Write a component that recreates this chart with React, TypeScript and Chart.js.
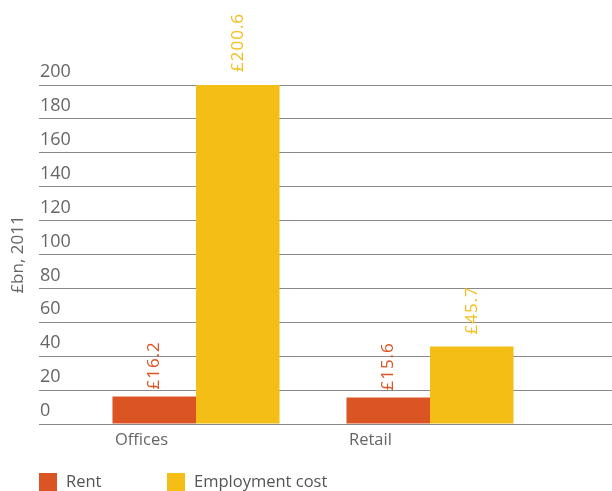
import React, { useEffect, useRef } from "react";
import { Chart, registerables } from "chart.js";

Chart.register(...registerables);

const categories = ["Offices", "Retail"];
const seriesNames = ["Rent", "Employment cost"];
const rentValues = [16.2, 15.6];
const employmentValues = [200.6, 45.7];
const yTicks = [0, 20, 40, 60, 80, 100, 120, 140, 160, 180, 200];
const yTitle = "£bn, 2011";

const RENT_COLOR = "#DB5424";
const EMP_COLOR = "#F5BE17";
const TEXT_COLOR = "#666666";
const GRID_COLOR = "#8a8a8a";
const FONT = "'Open Sans', sans-serif";

const valueLabels = {
  id: "valueLabels",
  afterDatasetsDraw(chart: any) {
    const ctx = chart.ctx;
    const gaps = [7, 12];
    chart.data.datasets.forEach((ds: any, di: number) => {
      const meta = chart.getDatasetMeta(di);
      meta.data.forEach((bar: any, i: number) => {
        const v = ds.data[i];
        ctx.save();
        ctx.translate(bar.x, bar.y - gaps[di]);
        ctx.rotate(-Math.PI / 2);
        ctx.font = `17px ${FONT}`;
        (ctx as any).letterSpacing = "1px";
        ctx.fillStyle = ds.backgroundColor;
        ctx.textAlign = "left";
        ctx.textBaseline = "middle";
        ctx.fillText("£" + v.toFixed(1), 0, 0);
        ctx.restore();
      });
    });
  },
};

const customLegend = {
  id: "customLegend",
  afterDraw(chart: any) {
    const ctx = chart.ctx;
    const startX = 39;
    const step = 128;
    const top = 473;
    chart.data.datasets.forEach((ds: any, di: number) => {
      const x = startX + di * step;
      ctx.save();
      ctx.fillStyle = ds.backgroundColor;
      ctx.fillRect(x, top, 18, 18);
      ctx.font = `16.5px ${FONT}`;
      ctx.fillStyle = "#555555";
      ctx.textAlign = "left";
      ctx.textBaseline = "middle";
      ctx.fillText(ds.label, x + 27, top + 9);
      ctx.restore();
    });
  },
};

export default function App() {
  const ref = useRef<HTMLCanvasElement>(null);

  useEffect(() => {
    if (!ref.current) return;
    const chart = new Chart(ref.current, {
      type: "bar",
      data: {
        labels: categories,
        datasets: [
          {
            label: seriesNames[0],
            data: rentValues,
            backgroundColor: RENT_COLOR,
            categoryPercentage: 0.714,
            barPercentage: 1,
          },
          {
            label: seriesNames[1],
            data: employmentValues,
            backgroundColor: EMP_COLOR,
            categoryPercentage: 0.714,
            barPercentage: 1,
          },
        ],
      },
      options: {
        animation: false,
        responsive: false,
        maintainAspectRatio: false,
        layout: { padding: { top: 85, left: 0, right: 0, bottom: 0 } },
        plugins: {
          legend: { display: false },
          tooltip: { enabled: false },
        },
        scales: {
          x: {
            type: "category",
            grid: { display: false, drawTicks: false },
            border: { display: false },
            ticks: {
              align: "start",
              labelOffset: -81,
              padding: 6,
              color: TEXT_COLOR,
              font: { family: FONT, size: 16.5 },
            },
            afterFit(scale: any) {
              scale.height = 67;
            },
          },
          y: {
            type: "linear",
            position: "left",
            min: yTicks[0],
            max: yTicks[yTicks.length - 1],
            afterBuildTicks(scale: any) {
              scale.ticks = yTicks.map((v) => ({ value: v }));
            },
            grid: {
              color: GRID_COLOR,
              lineWidth: 1,
              drawTicks: true,
              tickLength: 40,
            },
            border: { display: false },
            ticks: {
              mirror: true,
              padding: -39,
              labelOffset: -13,
              color: TEXT_COLOR,
              font: { family: FONT, size: 18 },
            },
            title: {
              display: true,
              text: yTitle,
              color: TEXT_COLOR,
              font: { family: FONT, size: 17 },
              padding: { top: 8, bottom: 0 },
            },
            afterFit(scale: any) {
              scale.width = 79;
            },
          },
          y2: {
            type: "linear",
            position: "right",
            min: yTicks[0],
            max: yTicks[yTicks.length - 1],
            afterBuildTicks(scale: any) {
              scale.ticks = yTicks.map((v) => ({ value: v }));
            },
            grid: {
              color: GRID_COLOR,
              lineWidth: 1,
              drawOnChartArea: false,
              drawTicks: true,
              tickLength: 65,
            },
            border: { display: false },
            ticks: { display: false },
            afterFit(scale: any) {
              scale.width = 65;
            },
          },
        },
      },
      plugins: [valueLabels, customLegend],
    } as any);
    return () => chart.destroy();
  }, []);

  return (
    <div style={{ position: "fixed", left: 0, top: 0, width: 612, height: 491, background: "#fff" }}>
      <canvas ref={ref} width={612} height={491} style={{ display: "block", width: 612, height: 491 }} />
    </div>
  );
}
